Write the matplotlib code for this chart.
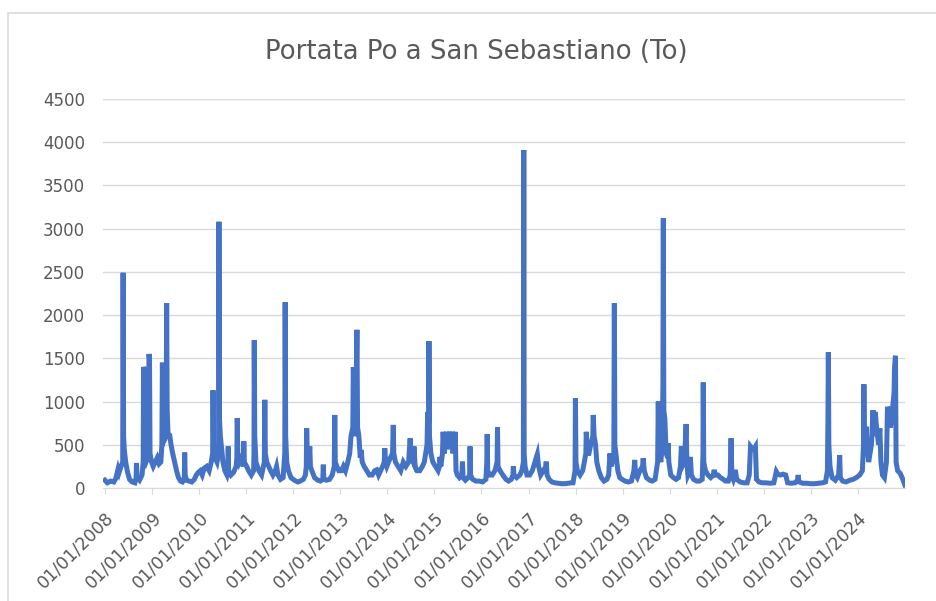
import matplotlib
matplotlib.use("Agg")
import matplotlib.pyplot as plt
import pandas as pd
from matplotlib.patches import Rectangle

title = "Portata Po a San Sebastiano (To)"

# (date, discharge m3/s), grouped by year
y2008 = [("2008-01-01", 90), ("2008-01-20", 60), ("2008-02-15", 80), ("2008-03-10", 70), ("2008-03-25", 110),
         ("2008-04-12", 220), ("2008-04-20", 180), ("2008-05-05", 250), ("2008-05-18", 300), ("2008-05-21", 2490),
         ("2008-05-25", 600), ("2008-05-30", 450), ("2008-06-10", 300), ("2008-06-25", 180), ("2008-07-10", 100),
         ("2008-07-30", 70), ("2008-08-20", 60), ("2008-08-30", 120), ("2008-09-02", 290), ("2008-09-06", 120),
         ("2008-09-25", 90), ("2008-10-15", 150), ("2008-10-24", 300), ("2008-10-27", 1400), ("2008-10-31", 1380),
         ("2008-11-04", 350), ("2008-11-15", 300), ("2008-11-28", 350), ("2008-12-02", 400), ("2008-12-08", 1550),
         ("2008-12-12", 1500), ("2008-12-16", 400), ("2008-12-28", 300)]
y2009 = [("2009-01-10", 250), ("2009-01-25", 300), ("2009-02-10", 350), ("2009-02-25", 280), ("2009-03-10", 300),
         ("2009-03-18", 500), ("2009-03-22", 1450), ("2009-03-27", 800), ("2009-04-05", 550), ("2009-04-20", 600),
         ("2009-04-24", 2140), ("2009-04-28", 900), ("2009-05-05", 620), ("2009-05-18", 610), ("2009-05-28", 500),
         ("2009-06-10", 400), ("2009-06-25", 300), ("2009-07-10", 200), ("2009-07-25", 120), ("2009-08-10", 80),
         ("2009-08-25", 70), ("2009-09-08", 100), ("2009-09-11", 410), ("2009-09-15", 150), ("2009-09-25", 90),
         ("2009-10-15", 80), ("2009-11-05", 70), ("2009-11-25", 100), ("2009-12-10", 150), ("2009-12-25", 180)]
y2010 = [("2010-01-10", 200), ("2010-01-25", 150), ("2010-02-10", 230), ("2010-03-01", 250), ("2010-03-20", 200),
         ("2010-04-05", 300), ("2010-04-16", 400), ("2010-04-19", 1130), ("2010-04-23", 500), ("2010-05-05", 350),
         ("2010-05-20", 300), ("2010-06-01", 400), ("2010-06-04", 3080), ("2010-06-08", 800), ("2010-06-15", 600),
         ("2010-06-25", 450), ("2010-07-05", 300), ("2010-07-20", 200), ("2010-08-05", 150), ("2010-08-12", 200),
         ("2010-08-15", 480), ("2010-08-18", 200), ("2010-09-05", 150), ("2010-09-25", 180), ("2010-10-15", 250),
         ("2010-10-21", 350), ("2010-10-24", 810), ("2010-10-28", 400), ("2010-11-10", 300), ("2010-11-25", 350),
         ("2010-12-10", 250), ("2010-12-14", 540), ("2010-12-18", 300)]
y2011 = [("2011-01-05", 250), ("2011-01-20", 200), ("2011-02-10", 150), ("2011-02-28", 200), ("2011-03-03", 400),
         ("2011-03-05", 1710), ("2011-03-09", 600), ("2011-03-18", 300), ("2011-04-10", 200), ("2011-05-01", 150),
         ("2011-05-22", 300), ("2011-05-26", 1020), ("2011-05-30", 400), ("2011-06-10", 300), ("2011-06-25", 250),
         ("2011-07-10", 200), ("2011-07-28", 150), ("2011-08-15", 200), ("2011-08-25", 250), ("2011-09-05", 150),
         ("2011-09-25", 100), ("2011-10-15", 120), ("2011-10-28", 400), ("2011-10-31", 2150), ("2011-11-04", 600),
         ("2011-11-12", 300), ("2011-11-25", 200), ("2011-12-15", 120)]
y2012 = [("2012-01-10", 90), ("2012-02-05", 70), ("2012-02-25", 80), ("2012-03-20", 100), ("2012-04-05", 150),
         ("2012-04-12", 250), ("2012-04-15", 690), ("2012-04-19", 400), ("2012-05-01", 300), ("2012-05-09", 480),
         ("2012-05-14", 250), ("2012-05-25", 200), ("2012-06-15", 120), ("2012-07-10", 90), ("2012-07-30", 80),
         ("2012-08-18", 100), ("2012-08-22", 270), ("2012-08-26", 100), ("2012-09-15", 90), ("2012-10-10", 100),
         ("2012-10-30", 150), ("2012-11-15", 250), ("2012-11-19", 845), ("2012-11-23", 300), ("2012-12-05", 250),
         ("2012-12-20", 200)]
y2013 = [("2013-01-10", 200), ("2013-01-25", 250), ("2013-02-10", 200), ("2013-02-28", 300), ("2013-03-15", 400),
         ("2013-03-25", 600), ("2013-04-08", 700), ("2013-04-12", 1400), ("2013-04-20", 600), ("2013-05-02", 700),
         ("2013-05-06", 1400), ("2013-05-10", 1830), ("2013-05-15", 700), ("2013-05-25", 600), ("2013-06-05", 350),
         ("2013-06-12", 440), ("2013-06-20", 300), ("2013-07-05", 250), ("2013-07-25", 200), ("2013-08-15", 150),
         ("2013-09-05", 150), ("2013-09-25", 200), ("2013-10-10", 210), ("2013-10-25", 150), ("2013-11-10", 200),
         ("2013-11-25", 250), ("2013-12-08", 300), ("2013-12-12", 460), ("2013-12-18", 300), ("2013-12-28", 250)]
y2014 = [("2014-01-10", 300), ("2014-01-25", 350), ("2014-02-10", 400), ("2014-02-16", 730), ("2014-02-20", 400),
         ("2014-03-05", 300), ("2014-03-25", 250), ("2014-04-15", 200), ("2014-05-05", 300), ("2014-05-25", 250),
         ("2014-06-15", 300), ("2014-06-27", 575), ("2014-07-05", 350), ("2014-07-20", 300), ("2014-07-27", 480),
         ("2014-08-05", 250), ("2014-08-20", 200), ("2014-09-10", 200), ("2014-09-30", 250), ("2014-10-15", 300),
         ("2014-11-05", 500), ("2014-11-10", 880), ("2014-11-14", 600), ("2014-11-18", 800), ("2014-11-20", 1700),
         ("2014-11-24", 600), ("2014-12-05", 400), ("2014-12-20", 300)]
y2015 = [("2015-01-10", 250), ("2015-01-30", 200), ("2015-02-10", 250), ("2015-02-13", 360), ("2015-02-20", 250),
         ("2015-03-05", 400), ("2015-03-10", 650), ("2015-03-18", 400), ("2015-03-28", 500), ("2015-04-05", 650),
         ("2015-04-15", 450), ("2015-04-28", 650), ("2015-05-08", 450), ("2015-05-18", 650), ("2015-05-25", 400),
         ("2015-06-05", 500), ("2015-06-12", 650), ("2015-06-18", 200), ("2015-06-28", 150), ("2015-07-15", 120),
         ("2015-08-02", 150), ("2015-08-07", 305), ("2015-08-12", 120), ("2015-08-30", 90), ("2015-09-20", 120),
         ("2015-10-02", 150), ("2015-10-05", 480), ("2015-10-09", 150), ("2015-10-25", 100), ("2015-11-20", 80),
         ("2015-12-15", 80)]
y2016 = [("2016-01-10", 70), ("2016-02-05", 100), ("2016-02-12", 300), ("2016-02-15", 625), ("2016-02-19", 200),
         ("2016-03-05", 150), ("2016-03-25", 150), ("2016-04-15", 200), ("2016-05-02", 300), ("2016-05-05", 700),
         ("2016-05-09", 250), ("2016-05-25", 200), ("2016-06-15", 150), ("2016-07-10", 100), ("2016-07-30", 80),
         ("2016-08-20", 100), ("2016-09-02", 150), ("2016-09-05", 250), ("2016-09-10", 150), ("2016-10-01", 120),
         ("2016-10-25", 150), ("2016-11-10", 200), ("2016-11-22", 300), ("2016-11-25", 3910), ("2016-11-28", 400),
         ("2016-12-05", 250), ("2016-12-20", 150)]
y2017 = [("2017-01-10", 150), ("2017-01-30", 200), ("2017-02-20", 300), ("2017-03-10", 390), ("2017-03-20", 250),
         ("2017-04-05", 150), ("2017-04-25", 200), ("2017-05-15", 250), ("2017-05-18", 305), ("2017-05-25", 150),
         ("2017-06-10", 100), ("2017-07-01", 70), ("2017-07-25", 60), ("2017-08-20", 55), ("2017-09-15", 50),
         ("2017-10-10", 50), ("2017-11-05", 55), ("2017-11-30", 60), ("2017-12-12", 60), ("2017-12-28", 200),
         ("2017-12-31", 1040)]
y2018 = [("2018-01-04", 300), ("2018-01-15", 200), ("2018-02-05", 150), ("2018-02-25", 200), ("2018-03-10", 300),
         ("2018-03-22", 400), ("2018-03-25", 650), ("2018-04-02", 400), ("2018-04-15", 400), ("2018-04-28", 500),
         ("2018-05-15", 600), ("2018-05-18", 845), ("2018-05-25", 600), ("2018-06-05", 500), ("2018-06-15", 300),
         ("2018-06-30", 200), ("2018-07-20", 120), ("2018-08-10", 80), ("2018-09-01", 100), ("2018-09-15", 150),
         ("2018-09-25", 400), ("2018-10-05", 250), ("2018-10-25", 400), ("2018-10-29", 2140), ("2018-11-02", 500),
         ("2018-11-10", 400), ("2018-11-25", 200), ("2018-12-10", 120), ("2018-12-28", 100)]
y2019 = [("2019-01-20", 80), ("2019-02-15", 70), ("2019-03-10", 80), ("2019-03-30", 200), ("2019-04-05", 325),
         ("2019-04-12", 150), ("2019-04-25", 120), ("2019-05-15", 200), ("2019-06-05", 250), ("2019-06-10", 345),
         ("2019-06-18", 200), ("2019-07-05", 120), ("2019-07-30", 90), ("2019-08-20", 80), ("2019-09-10", 100),
         ("2019-09-30", 300), ("2019-10-03", 700), ("2019-10-05", 1000), ("2019-10-10", 400), ("2019-10-25", 300),
         ("2019-11-05", 500), ("2019-11-10", 1200), ("2019-11-13", 3120), ("2019-11-17", 900), ("2019-11-25", 800),
         ("2019-12-05", 400), ("2019-12-18", 350), ("2019-12-21", 520), ("2019-12-26", 300)]
y2020 = [("2020-01-10", 150), ("2020-01-30", 120), ("2020-02-20", 100), ("2020-03-10", 120), ("2020-03-25", 250),
         ("2020-04-01", 480), ("2020-04-08", 250), ("2020-04-25", 300), ("2020-05-08", 740), ("2020-05-14", 300),
         ("2020-05-22", 150), ("2020-06-05", 200), ("2020-06-10", 360), ("2020-06-18", 150), ("2020-07-05", 100),
         ("2020-07-30", 80), ("2020-08-20", 80), ("2020-09-10", 100), ("2020-09-16", 400), ("2020-09-18", 1220),
         ("2020-09-22", 300), ("2020-10-05", 200), ("2020-10-25", 150), ("2020-11-15", 120), ("2020-12-05", 150),
         ("2020-12-12", 210), ("2020-12-20", 150)]
y2021 = [("2021-01-10", 150), ("2021-01-30", 120), ("2021-02-20", 100), ("2021-03-10", 80), ("2021-04-01", 80),
         ("2021-04-15", 150), ("2021-04-22", 575), ("2021-04-28", 150), ("2021-05-10", 100), ("2021-05-20", 150),
         ("2021-05-25", 210), ("2021-06-05", 100), ("2021-07-01", 70), ("2021-07-30", 60), ("2021-08-25", 60),
         ("2021-09-10", 150), ("2021-09-20", 480), ("2021-10-05", 450), ("2021-10-20", 460), ("2021-10-28", 480),
         ("2021-11-05", 100), ("2021-11-25", 70), ("2021-12-20", 60)]
y2022 = [("2022-01-15", 60), ("2022-02-20", 55), ("2022-03-20", 60), ("2022-04-02", 150), ("2022-04-08", 190),
         ("2022-04-20", 160), ("2022-05-10", 150), ("2022-05-30", 160), ("2022-06-20", 150), ("2022-07-05", 60),
         ("2022-08-01", 55), ("2022-09-01", 60), ("2022-09-20", 90), ("2022-09-25", 150), ("2022-10-01", 70),
         ("2022-10-30", 55), ("2022-11-30", 55), ("2022-12-30", 50)]
y2023 = [("2023-01-30", 50), ("2023-03-01", 55), ("2023-04-01", 60), ("2023-04-25", 70), ("2023-05-10", 200),
         ("2023-05-14", 800), ("2023-05-17", 1570), ("2023-05-21", 500), ("2023-05-30", 250), ("2023-06-15", 120),
         ("2023-07-10", 90), ("2023-08-05", 150), ("2023-08-13", 380), ("2023-08-18", 120), ("2023-09-05", 80),
         ("2023-10-01", 70), ("2023-10-30", 90), ("2023-11-25", 100), ("2023-12-20", 120)]
y2024 = [("2024-01-15", 150), ("2024-02-05", 200), ("2024-02-14", 500), ("2024-02-17", 1200), ("2024-02-22", 400),
         ("2024-03-05", 710), ("2024-03-12", 500), ("2024-03-25", 300), ("2024-04-15", 500), ("2024-04-28", 900),
         ("2024-05-05", 600), ("2024-05-15", 880), ("2024-05-25", 700), ("2024-06-10", 500), ("2024-06-20", 690),
         ("2024-06-28", 300), ("2024-07-10", 150), ("2024-07-25", 120), ("2024-08-10", 300), ("2024-08-18", 940),
         ("2024-08-25", 900), ("2024-09-10", 700), ("2024-09-25", 900), ("2024-10-08", 1100), ("2024-10-12", 1400),
         ("2024-10-19", 1530), ("2024-10-24", 300), ("2024-11-05", 200), ("2024-11-25", 170), ("2024-12-15", 100),
         ("2024-12-31", 35)]

tick_years = list(range(2008, 2025))
tick_labels = [f"01/01/{y}" for y in tick_years]
y_ticks = list(range(0, 5000, 500))

records = (y2008 + y2009 + y2010 + y2011 + y2012 + y2013 + y2014 + y2015 + y2016 +
           y2017 + y2018 + y2019 + y2020 + y2021 + y2022 + y2023 + y2024)
df = pd.DataFrame(records, columns=["data", "portata"])
df["data"] = pd.to_datetime(df["data"])

W, H = 936, 601
fig = plt.figure(figsize=(W / 100, H / 100), dpi=100)
fig.patch.set_facecolor("white")

# chart area border
fig.patches.append(Rectangle((8 / W, -0.05), 1.2, 1 - 13 / H + 0.05, transform=fig.transFigure,
                             fill=False, edgecolor="#d9d9d9", linewidth=1.2))

ax = fig.add_axes([103 / W, 1 - 488 / H, 802 / W, 389 / H])
ax.plot(df["data"], df["portata"], color="#4472C4", linewidth=3.6, solid_joinstyle="miter")

ax.set_ylim(0, 4500)
ax.set_yticks(y_ticks)
ax.set_xlim(pd.Timestamp("2007-12-17"), pd.Timestamp("2025-01-01"))
ax.set_xticks([pd.Timestamp(f"{y}-01-01") for y in tick_years])
ax.set_xticklabels(tick_labels, rotation=45, ha="right", rotation_mode="anchor")

ax.grid(axis="y", color="#d9d9d9", linewidth=1)
ax.set_axisbelow(True)
for s in ["top", "right", "left"]:
    ax.spines[s].set_visible(False)
ax.spines["bottom"].set_color("#d9d9d9")
ax.tick_params(axis="y", length=0, pad=13, labelsize=12, labelcolor="#595959")
ax.tick_params(axis="x", length=4, color="#d9d9d9", pad=11, labelsize=12.5, labelcolor="#595959")

fig.text(476 / W, 1 - 52 / H, title, ha="center", va="center", fontsize=18.7, color="#595959")

fig.savefig("out.png", dpi=100)
